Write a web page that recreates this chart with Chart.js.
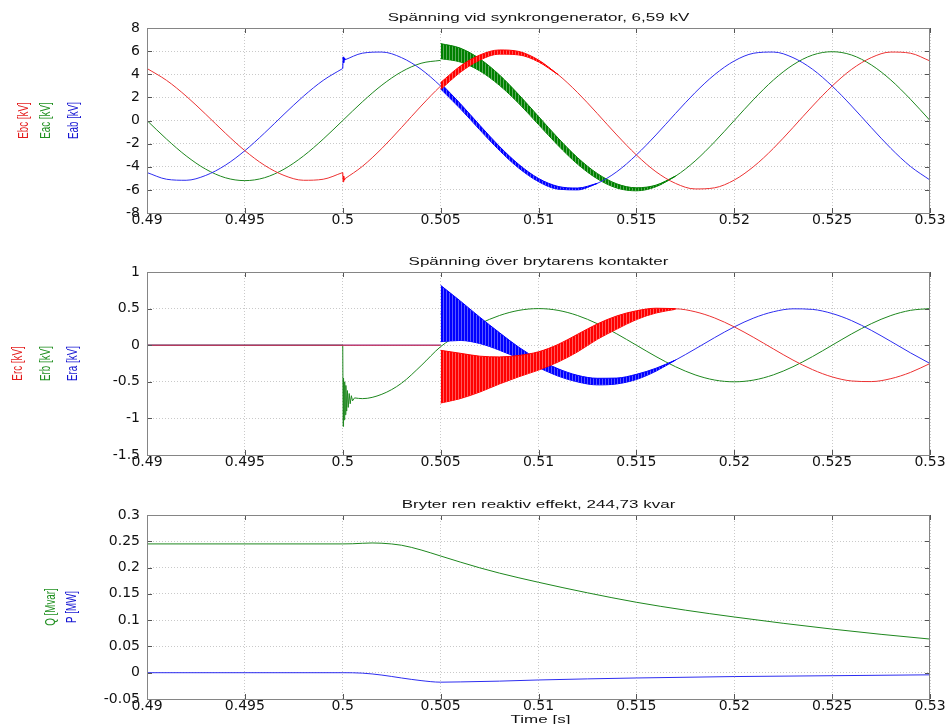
<!DOCTYPE html>
<html>
<head>
<meta charset="utf-8">
<title>Spänning vid synkrongenerator</title>
<script src="https://cdn.jsdelivr.net/npm/chart.js@4.4.1/dist/chart.umd.min.js"></script>
<style>
  html, body { margin: 0; padding: 0; background: #fff; }
  #wrap { position: relative; width: 949px; height: 724px; }
  canvas { position: absolute; left: 0; }
</style>
</head>
<body>
<div id="wrap">
  <canvas id="c1" width="949" height="240" style="top:0"></canvas>
  <canvas id="c2" width="949" height="240" style="top:240px"></canvas>
  <canvas id="c3" width="949" height="244" style="top:480px"></canvas>
</div>
<script>
// ---- axes ----
const xTicks = [0.49, 0.495, 0.5, 0.505, 0.51, 0.515, 0.52, 0.525, 0.53];
const xTickLabels = ['0.49', '0.495', '0.5', '0.505', '0.51', '0.515', '0.52', '0.525', '0.53'];
const yTicks1 = [-8, -6, -4, -2, 0, 2, 4, 6, 8];
const yTickLabels1 = ['-8', '-6', '-4', '-2', '0', '2', '4', '6', '8'];
const yTicks2 = [-1.5, -1, -0.5, 0, 0.5, 1];
const yTickLabels2 = ['-1.5', '-1', '-0.5', '0', '0.5', '1'];
const yTicks3 = [-0.05, 0, 0.05, 0.1, 0.15, 0.2, 0.25, 0.3];
const yTickLabels3 = ['-0.05', '0', '0.05', '0.1', '0.15', '0.2', '0.25', '0.3'];

const titles = ['Spänning vid synkrongenerator, 6,59 kV', 'Spänning över brytarens kontakter', 'Bryter ren reaktiv effekt, 244,73 kvar'];
const yLabels1 = ['Ebc [kV]', 'Eac [kV]', 'Eab [kV]'];
const yLabels2 = ['Erc [kV]', 'Erb [kV]', 'Era [kV]'];
const yLabels3 = ['Q [Mvar]', 'P [MW]'];
const xLabel = 'Time [s]';

// ---- sample times (s) ----
const tGrid = [0.490, 0.491, 0.492, 0.493, 0.494, 0.495, 0.496, 0.497, 0.498, 0.499, 0.500,
  0.501, 0.502, 0.503, 0.504, 0.505, 0.506, 0.507, 0.508, 0.509, 0.510,
  0.511, 0.512, 0.513, 0.514, 0.515, 0.516, 0.517, 0.518, 0.519, 0.520,
  0.521, 0.522, 0.523, 0.524, 0.525, 0.526, 0.527, 0.528, 0.529, 0.530];
const tSwitch = [0.500, 0.50002, 0.50005, 0.50008, 0.5001]; // breaker operation at 0.5 s
const tAfterSwitch = [0.5001, 0.501, 0.502, 0.503, 0.504, 0.505, 0.506, 0.507, 0.508, 0.509, 0.510,
  0.511, 0.512, 0.513, 0.514, 0.515, 0.516, 0.517, 0.518, 0.519, 0.520,
  0.521, 0.522, 0.523, 0.524, 0.525, 0.526, 0.527, 0.528, 0.529, 0.530];
const tBand = [0.505, 0.506, 0.507, 0.508, 0.509, 0.510, 0.511, 0.512, 0.513, 0.514, 0.515, 0.516, 0.517];

// ---- top: generator voltages [kV] ----
const ebcPre = [4.50, 3.47, 2.11, 0.54, -1.09, -2.61, -3.87, -4.75, -5.17, -5.08, -4.50];
const ebcSwitch = [-4.50, -5.30, -4.80, -5.15, -5.05];
const ebcPost = [-5.05, -3.97, -2.41, -0.61, 1.25, 2.98, 4.43, 5.44, 5.92, 5.82, 5.15,
  3.97, 2.41, 0.61, -1.25, -2.98, -4.43, -5.44, -5.92, -5.82, -5.15,
  -3.97, -2.41, -0.61, 1.25, 2.98, 4.43, 5.44, 5.92, 5.82, 5.15];
const eabPre = [-4.50, -5.08, -5.17, -4.75, -3.87, -2.61, -1.09, 0.54, 2.11, 3.47, 4.50];
const eabSwitch = [4.50, 5.50, 5.00, 5.40, 5.24];
const eabPost = [5.24, 5.82, 5.92, 5.44, 4.43, 2.98, 1.25, -0.61, -2.41, -3.97, -5.15,
  -5.82, -5.92, -5.44, -4.43, -2.98, -1.25, 0.61, 2.41, 3.97, 5.15,
  5.82, 5.92, 5.44, 4.43, 2.98, 1.25, -0.61, -2.41, -3.97, -5.15];
const eacPre = [0, -1.61, -3.06, -4.21, -4.95, -5.20, -4.95, -4.21, -3.06, -1.61, 0,
  1.61, 3.06, 4.21, 4.95, 5.20];                                   // 0.490 .. 0.505
const eacPost = [5.95, 5.66, 4.81, 3.50, 1.84, 0,
  -1.84, -3.50, -4.81, -5.66, -5.95, -5.66, -4.81, -3.50, -1.84, 0,
  1.84, 3.50, 4.81, 5.66, 5.95, 5.66, 4.81, 3.50, 1.84, 0];       // 0.505 .. 0.530

// oscillation envelopes after 0.505 s
const eacHi = [6.65, 6.26, 5.33, 3.95, 2.22, 0.35, -1.52, -3.22, -4.58, -5.48, -5.82, -5.59, -4.81];
const eacLo = [5.35, 5.06, 4.29, 3.05, 1.46, -0.35, -2.16, -3.78, -5.04, -5.84, -6.08, -5.73, -4.81];
const ebcHi = [3.28, 4.70, 5.66, 6.10, 5.97, 5.23, 3.97];
const ebcLo = [2.68, 4.16, 5.22, 5.74, 5.67, 5.07, 3.97];
const eabHi = [3.23, 1.47, -0.41, -2.23, -3.81, -5.01, -5.70, -5.84, -5.44];
const eabLo = [2.73, 1.03, -0.81, -2.59, -4.13, -5.29, -5.94, -6.00, -5.44];

// ---- middle: voltage over breaker contacts [kV] ----
const tOpenR = [0.490, 0.505];
const openR = [0, 0];
const ercPost = [-0.433, -0.489, -0.497, -0.457, -0.372, -0.250, -0.105, 0.051, 0.203, 0.334, 0.433,
  0.489, 0.497, 0.457, 0.372, 0.250, 0.105, -0.051, -0.203, -0.334, -0.433,
  -0.489, -0.497, -0.457, -0.372, -0.250];                        // 0.505 .. 0.530
const eraPost = [0.433, 0.335, 0.203, 0.052, -0.104, -0.250, -0.372, -0.457, -0.497, -0.489, -0.433,
  -0.335, -0.203, -0.052, 0.104, 0.250, 0.372, 0.457, 0.497, 0.489, 0.433,
  0.335, 0.203, 0.052, -0.104, -0.250];                           // 0.505 .. 0.530
const tOpenB = [0.490, 0.500];
const openB = [0, 0];
const tErbSpike = [0.500, 0.50002, 0.50004, 0.50007, 0.5001, 0.50013, 0.50016, 0.5002, 0.50024, 0.50028, 0.50033, 0.50038, 0.50044, 0.5005, 0.5006];
const erbSpike = [0, -1.11, -0.45, -1.02, -0.50, -0.95, -0.55, -0.90, -0.62, -0.85, -0.66, -0.80, -0.69, -0.76, -0.72];
const tErbPost = [0.5006, 0.501, 0.502, 0.503, 0.504, 0.505, 0.506, 0.507, 0.508, 0.509, 0.510,
  0.511, 0.512, 0.513, 0.514, 0.515, 0.516, 0.517, 0.518, 0.519, 0.520,
  0.521, 0.522, 0.523, 0.524, 0.525, 0.526, 0.527, 0.528, 0.529, 0.530];
const erbPost = [-0.72, -0.73, -0.67, -0.52, -0.28, -0.02,
  0.155, 0.294, 0.405, 0.476, 0.500, 0.476, 0.405, 0.294, 0.155, 0,
  -0.155, -0.294, -0.405, -0.476, -0.500, -0.476, -0.405, -0.294, -0.155, 0,
  0.155, 0.294, 0.405, 0.476, 0.500];
const eraHi = [0.818, 0.605, 0.383, 0.172, -0.029, -0.195, -0.322, -0.412, -0.452, -0.449, -0.398, -0.315, -0.203];
const eraLo = [0.048, 0.065, 0.023, -0.068, -0.179, -0.305, -0.422, -0.502, -0.542, -0.529, -0.468, -0.355, -0.203];
const ercHi = [-0.07, -0.11, -0.15, -0.16, -0.14, -0.09, 0.01, 0.15, 0.29, 0.40, 0.47, 0.505, 0.50];
const ercLo = [-0.79, -0.73, -0.64, -0.53, -0.43, -0.34, -0.23, -0.09, 0.08, 0.22, 0.35, 0.44, 0.49];

// ---- bottom: power ----
const tQ = [0.490, 0.500, 0.5005, 0.501, 0.5015, 0.502, 0.503, 0.504, 0.505, 0.506, 0.507, 0.508, 0.510, 0.5125, 0.515, 0.5175, 0.520, 0.5225, 0.525, 0.5275, 0.530];
const qMvar = [0.245, 0.245, 0.2453, 0.2462, 0.2468, 0.2463, 0.2425, 0.2335, 0.222, 0.2105, 0.1995, 0.1895, 0.172, 0.152, 0.134, 0.119, 0.106, 0.094, 0.083, 0.073, 0.064];
const tP = [0.490, 0.500, 0.501, 0.502, 0.503, 0.504, 0.505, 0.506, 0.508, 0.510, 0.515, 0.520, 0.525, 0.530];
const pMW = [0, 0, -0.0008, -0.0045, -0.0100, -0.0150, -0.0180, -0.0175, -0.0160, -0.0138, -0.0100, -0.0073, -0.0057, -0.0040];

// thin traces a bit softer, the oscillating bands full colour
const RED = 'rgb(236,50,50)', GREEN = 'rgb(30,135,30)', BLUE = 'rgb(45,45,240)';
const RED_B = 'rgb(255,0,0)', GREEN_B = 'rgb(0,128,0)', BLUE_B = 'rgb(0,0,255)';
const TXT_RED = '#e31b1b', TXT_GREEN = '#1f8f1f', TXT_BLUE = '#1414d2';

function pts(ts, vs) {
  return ts.map((t, i) => ({ x: t, y: vs[i] }));
}
// smooth curve piece
function line(ts, vs, color, order) {
  return { data: pts(ts, vs), borderColor: color, borderWidth: 1, pointRadius: 0, fill: false,
    cubicInterpolationMode: 'monotone', order };
}
// straight pieces for the switching transients
function jag(ts, vs, color, order) {
  return { data: pts(ts, vs), borderColor: color, borderWidth: 1, pointRadius: 0, fill: false,
    tension: 0, order };
}
// vertical streaks like the high-frequency ringing
function streaks(color) {
  const c = document.createElement('canvas');
  c.width = 3; c.height = 1;
  const g = c.getContext('2d');
  g.fillStyle = color;
  g.fillRect(0, 0, 3, 1);
  g.fillStyle = 'rgba(255,255,255,0.35)';
  g.fillRect(2, 0, 1, 1);
  return g.createPattern(c, 'repeat');
}
// two datasets, filled between upper and lower envelope
function band(hi, lo, color, order) {
  const t = tBand.slice(0, hi.length);
  return [
    { data: pts(t, hi), borderColor: color, backgroundColor: streaks(color), borderWidth: 1,
      pointRadius: 0, fill: '+1', cubicInterpolationMode: 'monotone', order },
    { data: pts(t, lo), borderColor: color, borderWidth: 1,
      pointRadius: 0, fill: false, cubicInterpolationMode: 'monotone', order }
  ];
}

function squishText(ctx, text, x, y, font, color) {
  ctx.save();
  ctx.translate(x, y);
  ctx.scale(1, 0.68);
  ctx.font = font;
  ctx.fillStyle = color;
  ctx.textAlign = 'center';
  ctx.textBaseline = 'alphabetic';
  ctx.fillText(text, 0, 0);
  ctx.restore();
}
function rotText(ctx, text, x, y, font, color) {
  ctx.save();
  ctx.translate(x, y);
  ctx.rotate(-Math.PI / 2);
  ctx.scale(0.7, 1);
  ctx.font = font;
  ctx.fillStyle = color;
  ctx.textAlign = 'center';
  ctx.textBaseline = 'middle';
  ctx.fillText(text, 0, 0);
  ctx.restore();
}

// box, inward ticks, title and axis labels in the matlab look
const matlabAxes = {
  id: 'matlabAxes',
  afterDraw(chart, args, opts) {
    const { ctx, chartArea: a, scales } = chart;
    const x = scales.x, y = scales.y;
    ctx.save();
    ctx.strokeStyle = '#555';
    ctx.lineWidth = 1;
    ctx.beginPath();
    x.ticks.forEach(tk => {
      const px = Math.round(x.getPixelForValue(tk.value)) + 0.5;
      ctx.moveTo(px, a.top); ctx.lineTo(px, a.top + 5);
      ctx.moveTo(px, a.bottom); ctx.lineTo(px, a.bottom - 5);
    });
    y.ticks.forEach(tk => {
      const py = Math.round(y.getPixelForValue(tk.value)) + 0.5;
      ctx.moveTo(a.left, py); ctx.lineTo(a.left + 5, py);
      ctx.moveTo(a.right, py); ctx.lineTo(a.right - 5, py);
    });
    ctx.stroke();
    ctx.strokeStyle = '#858585';
    ctx.strokeRect(Math.round(a.left) + 0.5, Math.round(a.top) + 0.5,
      Math.round(a.right - a.left) - 1, Math.round(a.bottom - a.top));
    ctx.restore();

    const mid = (a.left + a.right) / 2;
    squishText(ctx, opts.title, mid, a.top - 7.5, '17px "Liberation Sans", Arial, sans-serif', '#111');
    const cy = (a.top + a.bottom) / 2;
    opts.ylabels.forEach((txt, i) => {
      rotText(ctx, txt, opts.ylabelX[i], cy, '14px "Liberation Sans", Arial, sans-serif', opts.ylabelColors[i]);
    });
    if (opts.xlabel) {
      squishText(ctx, opts.xlabel, mid + 2, chart.height - 1, '17px "Liberation Sans", Arial, sans-serif', '#111');
    }
  }
};

function makeChart(id, datasets, yMin, yMax, yTicks, yTickLabels, padTop, xHeight, deco) {
  const tickFont = { family: '"DejaVu Sans", sans-serif', size: 14, lineHeight: 1 };
  return new Chart(document.getElementById(id), {
    type: 'line',
    data: { datasets },
    options: {
      responsive: false,
      animation: false,
      events: [],
      layout: { padding: { top: padTop, right: 19, bottom: 0, left: 0 } },
      scales: {
        x: {
          type: 'linear', min: 0.49, max: 0.53,
          afterBuildTicks: s => { s.ticks = xTicks.map(v => ({ value: v })); },
          afterFit: s => { s.height = xHeight; },
          ticks: { callback: (v, i) => xTickLabels[i], autoSkip: false, maxRotation: 0,
            padding: 0, color: '#111', font: tickFont },
          grid: { color: '#c9c9c9', drawTicks: false },
          border: { display: false, dash: [1, 2] }
        },
        y: {
          min: yMin, max: yMax,
          afterBuildTicks: s => { s.ticks = yTicks.map(v => ({ value: v })); },
          afterFit: s => { s.width = 147; },
          ticks: { callback: (v, i) => yTickLabels[i], autoSkip: false,
            padding: 7, color: '#111', font: tickFont },
          grid: { color: '#c9c9c9', drawTicks: false },
          border: { display: false, dash: [1, 2] }
        }
      },
      plugins: {
        legend: { display: false },
        tooltip: { enabled: false },
        matlabAxes: deco
      }
    },
    plugins: [matlabAxes]
  });
}

// top
makeChart('c1', [
  line(tGrid.slice(0, 11), ebcPre, RED, 2),
  jag(tSwitch, ebcSwitch, RED_B, 2),
  line(tAfterSwitch, ebcPost, RED, 2),
  ...band(ebcHi, ebcLo, RED_B, 1),
  line(tGrid.slice(0, 11), eabPre, BLUE, 4),
  jag(tSwitch, eabSwitch, BLUE_B, 4),
  line(tAfterSwitch, eabPost, BLUE, 4),
  ...band(eabHi, eabLo, BLUE_B, 3),
  line(tGrid.slice(0, 16), eacPre, GREEN, 6),
  line(tGrid.slice(15), eacPost, GREEN, 6),
  ...band(eacHi, eacLo, GREEN_B, 5)
], -8, 8, yTicks1, yTickLabels1, 28, 27, {
  title: titles[0], ylabels: yLabels1, ylabelX: [24, 46, 74],
  ylabelColors: [TXT_RED, TXT_GREEN, TXT_BLUE]
});

// middle
makeChart('c2', [
  line(tOpenR, openR, RED, 2),
  line(tGrid.slice(15), ercPost, RED, 2),
  ...band(ercHi, ercLo, RED_B, 1),
  line(tOpenR, openR, BLUE, 4),
  line(tGrid.slice(15), eraPost, BLUE, 4),
  ...band(eraHi, eraLo, BLUE_B, 3),
  line(tOpenB, openB, GREEN, 6),
  jag(tErbSpike, erbSpike, GREEN, 6),
  line(tErbPost, erbPost, GREEN, 6)
], -1.5, 1, yTicks2, yTickLabels2, 32, 25, {
  title: titles[1], ylabels: yLabels2, ylabelX: [18, 46, 73],
  ylabelColors: [TXT_RED, TXT_GREEN, TXT_BLUE]
});

// bottom
makeChart('c3', [
  line(tP, pMW, BLUE, 1),
  line(tQ, qMvar, GREEN, 2)
], -0.05, 0.3, yTicks3, yTickLabels3, 35, 25, {
  title: titles[2], ylabels: yLabels3, ylabelX: [51, 72],
  ylabelColors: [TXT_GREEN, TXT_BLUE], xlabel: xLabel
});
</script>
</body>
</html>
